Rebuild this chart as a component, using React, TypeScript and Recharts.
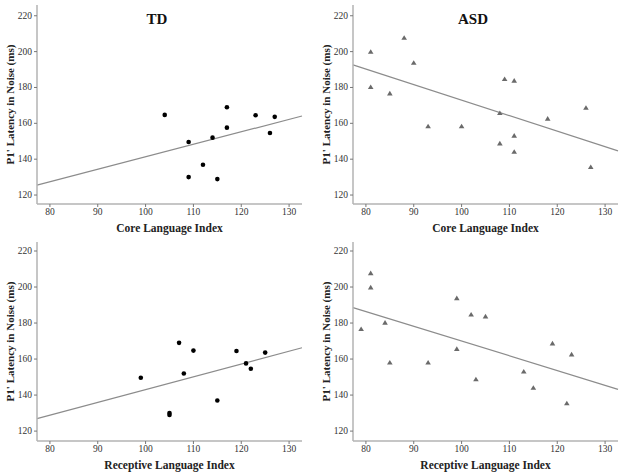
import { ScatterChart, Scatter, XAxis, YAxis, ReferenceLine } from "recharts";

const xTicks = [80, 90, 100, 110, 120, 130];
const yTicks = [120, 140, 160, 180, 200, 220];

// TD, Core Language Index
const tdCoreIndex = [104, 109, 109, 112, 114, 115, 117, 117, 123, 126, 127];
const tdCoreLatency = [164.7, 149.6, 130, 136.9, 152, 128.9, 169, 157.6, 164.5, 154.6, 163.6];
const tdCoreFit = [
  { x: 77.3, y: 125.5 },
  { x: 132.7, y: 164.1 },
];

// ASD, Core Language Index
const asdCoreIndex = [81, 81, 85, 88, 90, 93, 100, 108, 108, 109, 111, 111, 111, 118, 126, 127];
const asdCoreLatency = [199.9, 180.2, 176.7, 207.7, 193.8, 158.3, 158.3, 165.7, 148.8, 184.7, 183.8, 153.1, 144.1, 162.6, 168.7, 135.6];
const asdCoreFit = [
  { x: 77.3, y: 192.6 },
  { x: 132.7, y: 144.6 },
];

// TD, Receptive Language Index
const tdRecIndex = [99, 105, 105, 107, 108, 110, 115, 119, 121, 122, 125];
const tdRecLatency = [149.6, 130, 129, 169, 152, 164.7, 137, 164.5, 157.6, 154.6, 163.6];
const tdRecFit = [
  { x: 77.3, y: 126.9 },
  { x: 132.7, y: 166.3 },
];

// ASD, Receptive Language Index
const asdRecIndex = [79, 81, 81, 84, 85, 93, 99, 99, 102, 103, 105, 113, 115, 119, 122, 123];
const asdRecLatency = [176.7, 207.7, 199.8, 180.2, 158.1, 158.1, 193.8, 165.6, 184.7, 148.8, 183.7, 153.1, 144, 168.7, 135.4, 162.6];
const asdRecFit = [
  { x: 77.3, y: 188.6 },
  { x: 132.7, y: 143.2 },
];

const serif = '"Liberation Serif", "Times New Roman", serif';

function Dot(props: any) {
  const { cx, cy } = props;
  return <circle cx={cx} cy={cy} r={2.3} fill="#000" />;
}

function Tri(props: any) {
  const { cx, cy } = props;
  return (
    <polygon
      points={`${cx},${cy - 2.6} ${cx + 2.8},${cy + 2} ${cx - 2.8},${cy + 2}`}
      fill="#6a6a6a"
    />
  );
}

function XTick(props: any) {
  const { x, y, payload } = props;
  return (
    <text x={x} y={y + 6} textAnchor="middle" style={{ fontFamily: serif, fontSize: 9.5 }} fill="#333">
      {payload.value}
    </text>
  );
}

function YTick(props: any) {
  const { x, y, payload } = props;
  return (
    <text x={x} y={y + 3} textAnchor="end" style={{ fontFamily: serif, fontSize: 9.5 }} fill="#333">
      {payload.value}
    </text>
  );
}

function YTitle(props: any) {
  const { viewBox, dx } = props;
  const x = viewBox.x + dx;
  const y = viewBox.y + viewBox.height / 2;
  return (
    <text
      x={x}
      y={y}
      transform={`rotate(-90 ${x} ${y})`}
      textAnchor="middle"
      dominantBaseline="central"
      style={{ fontFamily: serif, fontWeight: "bold", fontSize: 11 }}
      fill="#222"
    >
      P1' Latency in Noise (ms)
    </text>
  );
}

function XTitle(props: any) {
  const { viewBox, value } = props;
  const x = viewBox.x + viewBox.width / 2;
  const y = viewBox.y + 24;
  return (
    <text
      x={x}
      y={y}
      textAnchor="middle"
      dominantBaseline="central"
      style={{ fontFamily: serif, fontWeight: "bold", fontSize: 11.5 }}
      fill="#222"
    >
      {value}
    </text>
  );
}

type PanelProps = {
  left: number;
  top: number;
  yWidth: number;
  right: number;
  index: number[];
  latency: number[];
  fit: { x: number; y: number }[];
  marker: "dot" | "tri";
  xTitle: string;
  title?: string;
  titleX?: number;
  yDomain: [number, number];
};

function Panel(p: PanelProps) {
  const data = p.index.map((v, i) => ({ x: v, y: p.latency[i] }));
  return (
    <div style={{ position: "absolute", left: p.left, top: p.top, width: 312, height: 237 }}>
      <ScatterChart width={312} height={237} margin={{ top: 5, right: p.right, bottom: 0, left: 0 }}>
        <XAxis
          type="number"
          dataKey="x"
          domain={[77.3, 132.7]}
          ticks={xTicks}
          allowDataOverflow
          height={33}
          tick={<XTick />}
          tickSize={3}
          tickLine={{ stroke: "#777" }}
          axisLine={{ stroke: "#b3b3b3", strokeWidth: 1.5 }}
          label={<XTitle value={p.xTitle} />}
        />
        <YAxis
          type="number"
          dataKey="y"
          domain={p.yDomain}
          ticks={yTicks}
          allowDataOverflow
          width={p.yWidth}
          tick={<YTick />}
          tickSize={3}
          tickLine={{ stroke: "#777" }}
          axisLine={{ stroke: "#b3b3b3", strokeWidth: 1.5 }}
          label={<YTitle dx={p.yWidth - 27} />}
        />
        <ReferenceLine
          segment={p.fit}
          stroke="#8c8c8c"
          strokeWidth={1.2}
          ifOverflow="visible"
        />
        <Scatter
          data={data}
          isAnimationActive={false}
          shape={p.marker === "dot" ? <Dot /> : <Tri />}
        />
      </ScatterChart>
      {p.title ? (
        <div
          style={{
            position: "absolute",
            left: p.titleX,
            top: 11,
            transform: "translateX(-50%)",
            fontFamily: serif,
            fontWeight: "bold",
            fontSize: 15,
            color: "#111",
            whiteSpace: "nowrap",
          }}
        >
          {p.title}
        </div>
      ) : null}
    </div>
  );
}

export default function App() {
  return (
    <div style={{ position: "absolute", left: 0, top: 0, width: 624, height: 474, background: "#fff" }}>
      <Panel
        left={0}
        top={0}
        yWidth={37}
        right={10}
        index={tdCoreIndex}
        latency={tdCoreLatency}
        fit={tdCoreFit}
        marker="dot"
        xTitle="Core Language Index"
        title="TD"
        titleX={157}
        yDomain={[115, 226]}
      />
      <Panel
        left={312}
        top={0}
        yWidth={41}
        right={6}
        index={asdCoreIndex}
        latency={asdCoreLatency}
        fit={asdCoreFit}
        marker="tri"
        xTitle="Core Language Index"
        title="ASD"
        titleX={161}
        yDomain={[115, 226]}
      />
      <Panel
        left={0}
        top={237}
        yWidth={37}
        right={10}
        index={tdRecIndex}
        latency={tdRecLatency}
        fit={tdRecFit}
        marker="dot"
        xTitle="Receptive Language Index"
        yDomain={[114.5, 225]}
      />
      <Panel
        left={312}
        top={237}
        yWidth={41}
        right={6}
        index={asdRecIndex}
        latency={asdRecLatency}
        fit={asdRecFit}
        marker="tri"
        xTitle="Receptive Language Index"
        yDomain={[114.5, 225]}
      />
    </div>
  );
}
